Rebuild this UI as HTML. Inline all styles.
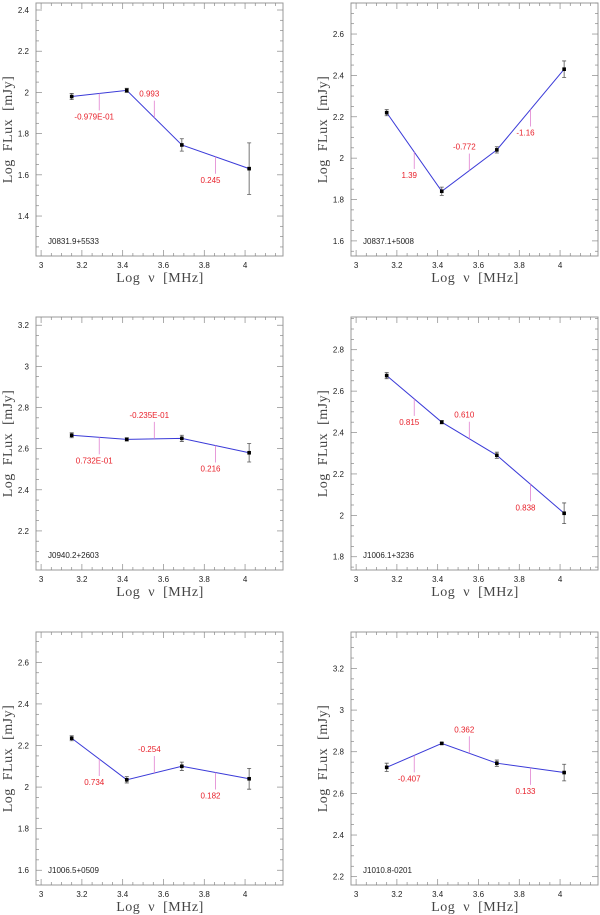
<!DOCTYPE html>
<html><head><meta charset="utf-8">
<style>
body{margin:0;background:#fff;}
svg{display:block;}
.tl{font-family:"Liberation Sans",sans-serif;font-size:8px;fill:#222;}
.ax{font-family:"Liberation Serif",serif;font-size:14px;fill:#444;white-space:pre;letter-spacing:0.5px;}
.sl{font-family:"Liberation Sans",sans-serif;font-size:8px;fill:#e8202a;}
</style></head>
<body>
<svg id="fig" width="600" height="915" viewBox="0 0 600 915"></svg>
<script>
const freqs = [3.15, 3.42, 3.69, 4.02];
const names = ["J0831.9+5533","J0837.1+5008","J0940.2+2603","J1006.1+3236","J1006.5+0509","J1010.8-0201"];
const flux1 = [1.98, 2.01, 1.745, 1.63];
const flux2 = [2.22, 1.84, 2.04, 2.43];
const flux3 = [2.665, 2.645, 2.65, 2.58];
const flux4 = [2.675, 2.45, 2.29, 2.01];
const flux5 = [2.235, 2.035, 2.10, 2.04];
const flux6 = [2.725, 2.84, 2.745, 2.70];
const err1 = [0.015, 0.01, 0.03, 0.125];
const err2 = [0.015, 0.02, 0.015, 0.04];
const err3 = [0.012, 0.008, 0.015, 0.045];
const err4 = [0.015, 0.008, 0.015, 0.05];
const err5 = [0.012, 0.015, 0.02, 0.05];
const err6 = [0.02, 0.005, 0.015, 0.04];
const slopes1 = ["-0.979E-01","0.993","0.245"];
const slopes2 = ["1.39","-0.772","-1.16"];
const slopes3 = ["0.732E-01","-0.235E-01","0.216"];
const slopes4 = ["0.815","0.610","0.838"];
const slopes5 = ["0.734","-0.254","0.182"];
const slopes6 = ["-0.407","0.362","0.133"];
const dirs1 = [-1, 1, -1];
const dirs2 = [-1, 1, -1];
const dirs3 = [-1, 1, -1];
const dirs4 = [-1, 1, -1];
const dirs5 = [-1, 1, -1];
const dirs6 = [-1, 1, -1];
const yRanges = [[1.206,2.434],[1.527,2.75],[2.01,3.24],[1.736,2.958],[1.529,2.746],[2.16,3.375]];
const xRange = [2.975, 4.186];
const yTickStart = [1.4, 1.6, 2.2, 1.8, 1.6, 2.2];
const yTickEnd = [2.4, 2.6, 3.2, 2.8, 2.6, 3.2];
const xTicks = [3, 3.2, 3.4, 3.6, 3.8, 4];

const NS = "http://www.w3.org/2000/svg";
const svg = document.getElementById('fig');
function mk(tag, attrs, parent){const e=document.createElementNS(NS,tag);for(const k in attrs)e.setAttribute(k,attrs[k]);(parent||svg).appendChild(e);return e;}

const fluxes=[flux1,flux2,flux3,flux4,flux5,flux6];
const errs=[err1,err2,err3,err4,err5,err6];
const slopes=[slopes1,slopes2,slopes3,slopes4,slopes5,slopes6];
const dirs=[dirs1,dirs2,dirs3,dirs4,dirs5,dirs6];
const lefts=[36,351], tops=[3,317,632];
const W=247,H=253;

for(let p=0;p<6;p++){
  const L=lefts[p%2], T=tops[Math.floor(p/2)];
  const yr=yRanges[p];
  const X=v=>L+(v-xRange[0])/(xRange[1]-xRange[0])*W;
  const Y=v=>T+H-(v-yr[0])/(yr[1]-yr[0])*H;
  const g=mk('g',{});
  
  
  const box=mk('rect',{x:L,y:T,width:W,height:H,fill:'none',stroke:'#999','stroke-width':1},g);
  
  
  for(let v=3.0;v<=4.18;v+=0.05){
    const vv=Math.round(v*100)/100;
    const maj=Math.abs(vv*5-Math.round(vv*5))<1e-6;
    const len=maj?6:3, x=X(vv);
    mk('line',{x1:x,y1:T+H,x2:x,y2:T+H-len,stroke:'#888','stroke-width':0.7},g);
    mk('line',{x1:x,y1:T,x2:x,y2:T+len,stroke:'#888','stroke-width':0.7},g);
  }
  xTicks.forEach(v=>{
    const t=mk('text',{x:X(v),y:T+H+12,'text-anchor':'middle',class:'tl'},g);t.textContent=String(v);
    
    
  });
  const y0=Math.ceil(yr[0]*20)/20;
  for(let v=y0;v<=yr[1];v+=0.05){
    const vv=Math.round(v*100)/100;
    const maj=Math.abs(vv*5-Math.round(vv*5))<1e-6;
    const len=maj?6:3, y=Y(vv);
    mk('line',{x1:L,y1:y,x2:L+len,y2:y,stroke:'#888','stroke-width':0.7},g);
    mk('line',{x1:L+W,y1:y,x2:L+W-len,y2:y,stroke:'#888','stroke-width':0.7},g);
  }
  for(let v=yTickStart[p];v<=yTickEnd[p]+1e-6;v+=0.2){
    const vv=Math.round(v*10)/10;
    const t=mk('text',{x:L-7,y:Y(vv)+3,'text-anchor':'end',class:'tl'},g);t.textContent=String(vv);
    
    
  }
  const xt=mk('text',{x:L+124,y:T+H+26,'text-anchor':'middle',class:'ax'},g);
  xt.textContent='Log  \u03bd  [MHz]';
  
  
  const yc=T+H/2;
  const yt=mk('text',{x:L-24,y:yc,'text-anchor':'middle',class:'ax',transform:`rotate(-90 ${L-24} ${yc})`},g);
  yt.textContent='Log  FLux  [mJy]';
  
  
  const sn=mk('text',{x:L+12,y:T+H-12,class:'tl'},g);sn.textContent=names[p];
  
  
  const f=fluxes[p];
  const pts=freqs.map((x,i)=>X(x)+','+Y(f[i])).join(' ');
  const pl=mk('polyline',{points:pts,fill:'none',stroke:'#3a3ad8','stroke-width':1},g);
  
  
  for(let s=0;s<3;s++){
    const xm=(freqs[s]+freqs[s+1])/2;
    const ym=(f[s]+f[s+1])/2;
    const px=X(xm), py=Y(ym), d=dirs[p][s];
    const tk=mk('line',{x1:px,y1:py,x2:px,y2:py-d*17,stroke:'#e080d0','stroke-width':0.8},g);
    
    
    const ly=d>0?py-17-4:py+17+9;
    const lt=mk('text',{x:px-5,y:ly,'text-anchor':'middle',class:'sl'},g);lt.textContent=slopes[p][s];
    
    
  }
  freqs.forEach((x,i)=>{
    const px=X(x), e=errs[p][i];
    const eb=mk('path',{d:`M${px},${Y(f[i]-e)}V${Y(f[i]+e)}M${px-2},${Y(f[i]-e)}h4M${px-2},${Y(f[i]+e)}h4`,stroke:'#555','stroke-width':0.8,fill:'none'},g);
    
    
    const pt=mk('rect',{x:px-1.8,y:Y(f[i])-1.8,width:3.6,height:3.6,fill:'#000'},g);
    
    
  });
}
</script>
</body></html>
